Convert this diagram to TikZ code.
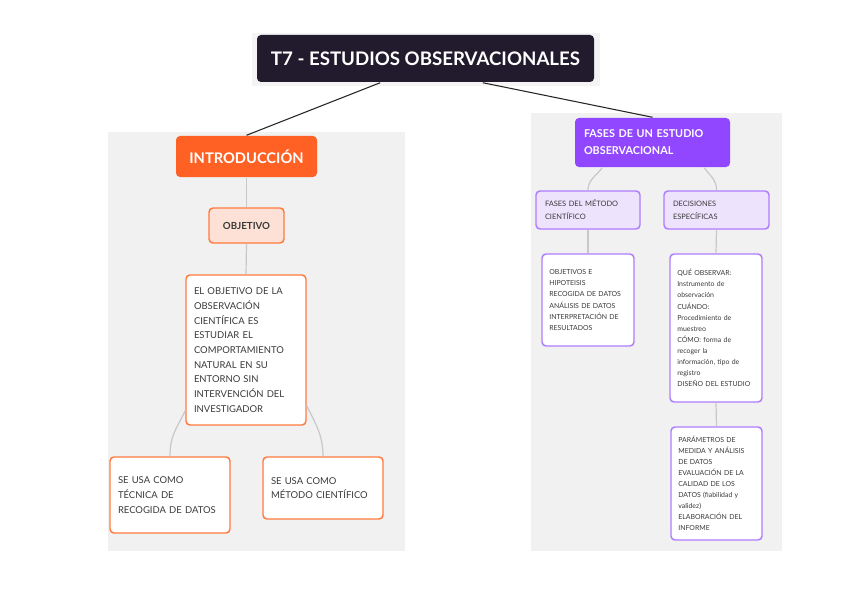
\documentclass[tikz,border=0pt]{standalone}
\usepackage{fontspec}
\setmainfont{Lato}
\usetikzlibrary{positioning,calc}

\definecolor{panelgray}{HTML}{F1F1F2}
\definecolor{titledark}{HTML}{221B2D}
\definecolor{orangemain}{HTML}{FF6124}
\definecolor{orangeline}{HTML}{FF7A3D}
\definecolor{peach}{HTML}{FDE1D6}
\definecolor{purplemain}{HTML}{9146FF}
\definecolor{purpleline}{HTML}{AF7BFF}
\definecolor{lavender}{HTML}{EDE3FD}
\definecolor{textgray}{HTML}{3A3A3A}
\definecolor{linkgray}{HTML}{C8C8C8}

\tikzset{
  box/.style={rectangle, rounded corners=3pt, line width=1.1pt, align=left, text=textgray},
  orangeleaf/.style={box, draw=orangeline, fill=white, inner xsep=6pt, text width=78pt, font=\fontsize{7.1}{11}\selectfont},
  purpleleaf/.style={box, draw=purpleline, fill=white, inner xsep=5.5pt, text width=58pt, font=\fontsize{5.2}{8.3}\selectfont},
  purplesub/.style={box, draw=purpleline, fill=lavender, inner xsep=6.75pt, font=\fontsize{5.6}{9.75}\selectfont, minimum height=28.5pt},
  link/.style={draw=linkgray, line width=0.9pt},
  mainlink/.style={draw=black!85, line width=0.8pt}
}

\begin{document}
\begin{tikzpicture}[x=0.75pt, y=-0.75pt]

\useasboundingbox[fill=white] (0,0) rectangle (848,599);

% ================= BACKGROUND PANELS =================
\fill[panelgray!80] (252,33) rectangle (600,86);
\fill[panelgray] (108,132) rectangle (405,551);
\fill[panelgray] (531,113) rectangle (782,551);

% ================= TITLE =================
\node[box, fill=titledark, text=white, align=center,
      minimum width=252.75pt, minimum height=35.25pt,
      font=\fontsize{14}{16}\bfseries] (title) at (425.5,58.5)
  {T7 - ESTUDIOS OBSERVACIONALES};

% ================= LEFT: INTRODUCCION =================
\node[box, fill=orangemain, text=white, align=center,
      minimum width=105.75pt, minimum height=30.75pt,
      font=\fontsize{11}{13}\bfseries] (intro) at (246.5,156.5)
  {INTRODUCCIÓN};

\node[box, draw=orangeline, fill=peach, align=center,
      minimum width=56.25pt, minimum height=26.25pt,
      font=\fontsize{7.3}{9}\bfseries] (objetivo) at (246.5,225.5)
  {OBJETIVO};

\node[orangeleaf, minimum height=112.5pt] (objtext) at (246,350)
  {EL OBJETIVO DE LA\\ OBSERVACIÓN\\ CIENTÍFICA ES\\ ESTUDIAR EL\\
   COMPORTAMIENTO\\ NATURAL EN SU\\ ENTORNO SIN\\ INTERVENCIÓN DEL\\ INVESTIGADOR};

\node[orangeleaf, minimum height=57pt] (tecnica) at (170,495)
  {SE USA COMO\\ TÉCNICA DE\\ RECOGIDA DE DATOS};

\node[orangeleaf, minimum height=46.5pt] (metodo) at (323,488)
  {SE USA COMO\\ MÉTODO CIENTÍFICO};

\draw[link] (intro.south) -- (objetivo.north);
\draw[link] (objetivo.south) -- (objtext.north);
\draw[link] ([yshift=11.25pt]objtext.south west) .. controls +(-10,20) and +(0,-20) .. (tecnica.north);
\draw[link] ([yshift=15pt]objtext.south east) .. controls +(10,20) and +(0,-20) .. (metodo.north);

% ================= RIGHT: FASES =================
\node[box, fill=purplemain, text=white, text width=102.75pt, inner xsep=6.75pt,
      minimum height=36.75pt,
      font=\fontsize{8.1}{12.75}\bfseries] (fases) at (652.5,142.5)
  {FASES DE UN ESTUDIO\\ OBSERVACIONAL};

\node[purplesub, text width=64.5pt] (fmetodo) at (588,210)
  {FASES DEL MÉTODO\\ CIENTÍFICO};
\node[purplesub, text width=65.25pt] (decis) at (716.5,210)
  {DECISIONES\\ ESPECÍFICAS};

\node[purpleleaf, minimum height=69pt] (etapas) at (588,300)
  {OBJETIVOS E\\ HIPOTEISIS\\ RECOGIDA DE DATOS\\ ANÁLISIS DE DATOS\\
   INTERPRETACIÓN DE\\ RESULTADOS};

\node[purpleleaf, minimum height=111pt] (que) at (716,328)
  {QUÉ OBSERVAR:\\ Instrumento de\\ observación\\ CUÁNDO:\\ Procedimiento de\\
   muestreo\\ CÓMO: forma de\\ recoger la\\ información, tipo de\\ registro\\
   DISEÑO DEL ESTUDIO};

\node[purpleleaf, text width=57.25pt, minimum height=84.75pt] (param) at (716.5,483.5)
  {PARÁMETROS DE\\ MEDIDA Y ANÁLISIS\\ DE DATOS\\ EVALUACIÓN DE LA\\
   CALIDAD DE LOS\\ DATOS (fiabilidad y\\ validez)\\ ELABORACIÓN DEL\\ INFORME};

\draw[link] ([xshift=21pt]fases.south west) .. controls +(-8,10) and +(0,-10) .. (fmetodo.north);
\draw[link] ([xshift=-20pt]fases.south east) .. controls +(8,10) and +(0,-10) .. (decis.north);
\draw[link] (fmetodo.south) -- (etapas.north);
\draw[link] (decis.south) -- (que.north);
\draw[link] (que.south) -- (param.north);

% ================= TITLE CONNECTORS =================
\draw[mainlink] ([xshift=-34pt]title.south) -- (intro.north);
\draw[mainlink] ([xshift=43pt]title.south) -- (fases.north);

\end{tikzpicture}
\end{document}
